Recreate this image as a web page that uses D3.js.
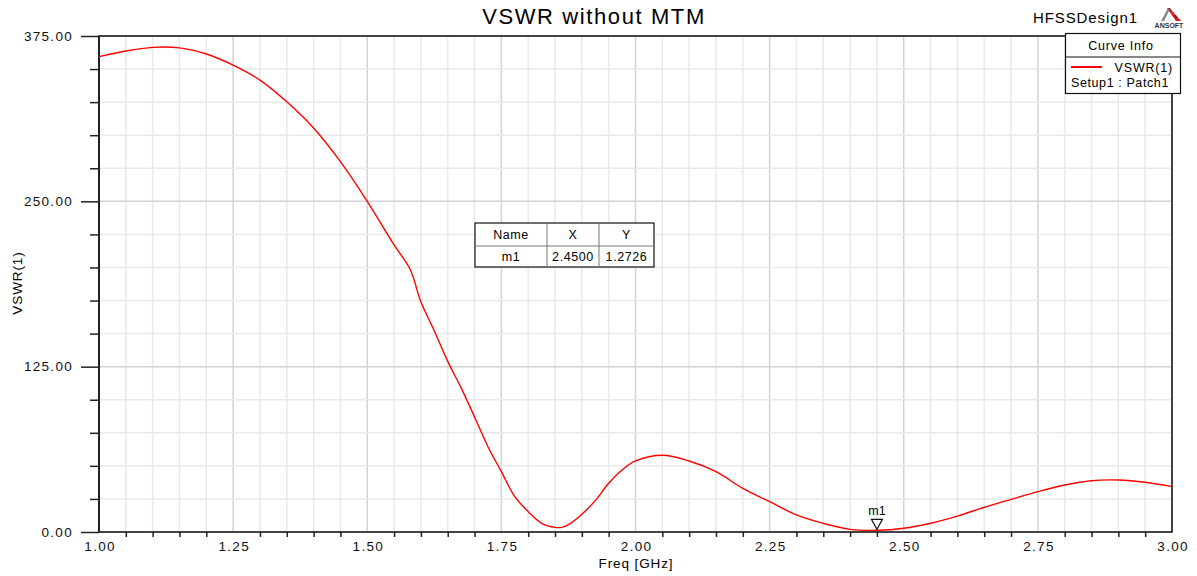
<!DOCTYPE html>
<html>
<head>
<meta charset="utf-8">
<script src="https://cdn.jsdelivr.net/npm/d3@7"></script>
<style>
  body { margin: 0; background: #fff; }
  svg { font-family: "Liberation Sans", Arial, sans-serif; }
</style>
</head>
<body>
<svg id="chart" width="1197" height="576"></svg>
<script>
// curve samples (GHz, VSWR)
const freq = [1.00, 1.05, 1.10, 1.15, 1.20, 1.25, 1.30, 1.35, 1.40, 1.45, 1.50, 1.55, 1.58,
              1.60, 1.625, 1.65, 1.675, 1.70, 1.725, 1.75, 1.775, 1.80, 1.825, 1.85, 1.8625,
              1.875, 1.90, 1.925, 1.95, 1.975, 2.00, 2.05, 2.10, 2.15, 2.20, 2.25, 2.30, 2.35,
              2.40, 2.45, 2.50, 2.55, 2.60, 2.65, 2.70, 2.75, 2.80, 2.85, 2.90, 2.95, 3.00];
const vswr = [359.4, 363.7, 366.4, 366, 361.4, 353, 341.7, 325.3, 305.5, 280, 250, 217, 198.5,
              174, 152, 129, 109, 87, 64.5, 45.6, 26.7, 15.4, 6.6, 3.5, 3.5,
              5.5, 13.4, 23.7, 36.8, 46.9, 53.7, 58, 53.7, 45.6, 33, 22.9, 12.9, 6.5,
              2, 1.27, 2.8, 6.6, 12, 18.7, 24.7, 30.5, 35.5, 38.8, 39.3, 37.6, 34.3];

const xMajor = [1.00, 1.25, 1.50, 1.75, 2.00, 2.25, 2.50, 2.75, 3.00];
const yMajor = [0, 125, 250, 375];

const markerName = "m1";
const markerX = 2.45;
const markerY = 1.2726;

const svg = d3.select("#chart");
const pLeft = 99, pRight = 1172, pTop = 36, pBottom = 532;

const x = d3.scaleLinear().domain([1, 3]).range([pLeft, pRight]);
const y = d3.scaleLinear().domain([0, 375]).range([pBottom, pTop]);

const xMinor = d3.range(1, 3.0001, 0.05).map(d => +d.toFixed(2));
const yMinor = d3.range(0, 375.001, 25);
const isMajorX = d => xMajor.some(m => Math.abs(m - d) < 1e-6);
const isMajorY = d => yMajor.includes(d);

// grid
const grid = svg.append("g");
grid.selectAll(".vx").data(xMinor).join("line")
    .attr("x1", d => x(d)).attr("x2", d => x(d))
    .attr("y1", pTop).attr("y2", pBottom)
    .attr("stroke", d => isMajorX(d) ? "#d2d2d2" : "#e9e9e9")
    .attr("stroke-width", 1.5);
grid.selectAll(".hy").data(yMinor).join("line")
    .attr("y1", d => y(d)).attr("y2", d => y(d))
    .attr("x1", pLeft).attr("x2", pRight)
    .attr("stroke", d => isMajorY(d) ? "#d2d2d2" : "#e9e9e9")
    .attr("stroke-width", 1.5);

// axes
const yAxis = svg.append("g")
    .attr("transform", `translate(${pLeft},0)`)
    .call(d3.axisLeft(y).tickValues(yMajor).tickSize(18).tickPadding(8)
        .tickFormat(d3.format(".2f")));
const yMinorAxis = svg.append("g")
    .attr("transform", `translate(${pLeft},0)`)
    .call(d3.axisLeft(y).tickValues(yMinor.filter(d => !isMajorY(d))).tickSize(9).tickFormat(""));

const xAxis = svg.append("g")
    .attr("transform", `translate(0,${pBottom})`)
    .call(d3.axisBottom(x).tickValues(xMajor).tickSize(0).tickPadding(9)
        .tickFormat(d3.format(".2f")));
const xMinorAxis = svg.append("g")
    .attr("transform", `translate(0,${pBottom})`)
    .call(d3.axisBottom(x).tickValues(xMinor.filter(d => !isMajorX(d))).tickSize(5).tickFormat(""));

[yAxis, yMinorAxis, xAxis, xMinorAxis].forEach(g => {
    g.select(".domain").remove();
    g.selectAll("line").attr("stroke", "#222").attr("stroke-width", 1.5);
    g.selectAll("text").attr("fill", "#111")
        .style("font-size", "13.5px").style("letter-spacing", "1.3px");
});
xAxis.selectAll("text").attr("dx", "0.6px");

// plot frame
svg.append("rect")
    .attr("x", pLeft).attr("y", pTop)
    .attr("width", pRight - pLeft).attr("height", pBottom - pTop)
    .attr("fill", "none").attr("stroke", "#111").attr("stroke-width", 1.5);
svg.append("line")
    .attr("x1", pLeft).attr("x2", pLeft).attr("y1", pTop).attr("y2", pBottom)
    .attr("stroke", "#222").attr("stroke-width", 2);

// curve
const data = freq.map((f, i) => ({ f: f, v: vswr[i] }));
svg.append("path")
    .datum(data)
    .attr("fill", "none")
    .attr("stroke", "#ff0000")
    .attr("stroke-width", 1.4)
    .attr("d", d3.line().x(d => x(d.f)).y(d => y(d.v)).curve(d3.curveCatmullRom.alpha(0.5)));

// axis titles
svg.append("text")
    .attr("x", 636).attr("y", 568)
    .attr("text-anchor", "middle")
    .style("font-size", "13.5px").style("letter-spacing", "0.9px")
    .text("Freq [GHz]");
svg.append("text")
    .attr("transform", "translate(22,283) rotate(-90)")
    .attr("text-anchor", "middle")
    .style("font-size", "13.5px").style("letter-spacing", "0.9px")
    .text("VSWR(1)");

// title and design name
svg.append("text")
    .attr("x", 594).attr("y", 24)
    .attr("text-anchor", "middle")
    .style("font-size", "22px").style("letter-spacing", "1.6px")
    .text("VSWR without MTM");
svg.append("text")
    .attr("x", 1033).attr("y", 23)
    .style("font-size", "15px").style("letter-spacing", "0.9px")
    .text("HFSSDesign1");

// ANSOFT logo
const logo = svg.append("g").attr("transform", "translate(1169,8)");
[0, 1, 2, 3].forEach(i => {
    logo.append("path")
        .attr("d", `M${-2 + i * 3},${i * 3.5} l3,0 l${9 - i * 2.2},${13 - i * 3.5} l-3,0 Z`)
        .attr("fill", i % 2 ? "#e03030" : "#b01010");
});
logo.append("path").attr("d", "M-1,0 L-8,13 L-5,13 L0.5,2 Z").attr("fill", "#888");
logo.append("text")
    .attr("x", 0).attr("y", 20)
    .attr("text-anchor", "middle")
    .style("font-size", "7px").style("font-weight", "bold")
    .attr("fill", "#333")
    .text("ANSOFT");

// legend box
const lg = svg.append("g");
lg.append("rect")
    .attr("x", 1065.5).attr("y", 33.5).attr("width", 115).attr("height", 60)
    .attr("fill", "#fff").attr("stroke", "#111").attr("stroke-width", 1.2);
lg.append("line")
    .attr("x1", 1065.5).attr("x2", 1180.5).attr("y1", 57).attr("y2", 57)
    .attr("stroke", "#111").attr("stroke-width", 1);
lg.append("text")
    .attr("x", 1121).attr("y", 50).attr("text-anchor", "middle")
    .style("font-size", "12.5px").style("letter-spacing", "0.8px").text("Curve Info");
lg.append("line")
    .attr("x1", 1071).attr("x2", 1102).attr("y1", 67).attr("y2", 67)
    .attr("stroke", "#ff0000").attr("stroke-width", 2);
lg.append("text")
    .attr("x", 1173).attr("y", 72).attr("text-anchor", "end")
    .style("font-size", "12.5px").style("letter-spacing", "0.8px").text("VSWR(1)");
lg.append("text")
    .attr("x", 1071).attr("y", 87)
    .style("font-size", "12.5px").style("letter-spacing", "0.6px").text("Setup1 : Patch1");

// marker table
const tb = svg.append("g");
const colX = [475, 547, 599, 654];
const rowY = [223, 246, 267];
tb.append("rect")
    .attr("x", colX[0]).attr("y", rowY[0])
    .attr("width", colX[3] - colX[0]).attr("height", rowY[2] - rowY[0])
    .attr("fill", "#fff").attr("stroke", "#111").attr("stroke-width", 1.2);
tb.append("line")
    .attr("x1", colX[0]).attr("x2", colX[3]).attr("y1", rowY[1]).attr("y2", rowY[1])
    .attr("stroke", "#777");
[colX[1], colX[2]].forEach(cx => tb.append("line")
    .attr("x1", cx).attr("x2", cx).attr("y1", rowY[0]).attr("y2", rowY[2])
    .attr("stroke", "#777"));
const cells = [["Name", "X", "Y"], [markerName, markerX.toFixed(4), markerY.toFixed(4)]];
cells.forEach((row, r) => row.forEach((t, c) => {
    tb.append("text")
        .attr("x", (colX[c] + colX[c + 1]) / 2)
        .attr("y", (rowY[r] + rowY[r + 1]) / 2 + 4.5)
        .attr("text-anchor", "middle")
        .style("font-size", "12.5px").style("letter-spacing", "0.6px")
        .text(t);
}));

// marker m1
const mx = x(markerX), my = y(markerY);
svg.append("path")
    .attr("d", `M${mx - 5.5},${my - 11} L${mx + 5.5},${my - 11} L${mx},${my - 1} Z`)
    .attr("fill", "#fff").attr("stroke", "#111").attr("stroke-width", 1.2);
svg.append("text")
    .attr("x", mx).attr("y", my - 15)
    .attr("text-anchor", "middle")
    .style("font-size", "12.5px")
    .text(markerName);
</script>
</body>
</html>
